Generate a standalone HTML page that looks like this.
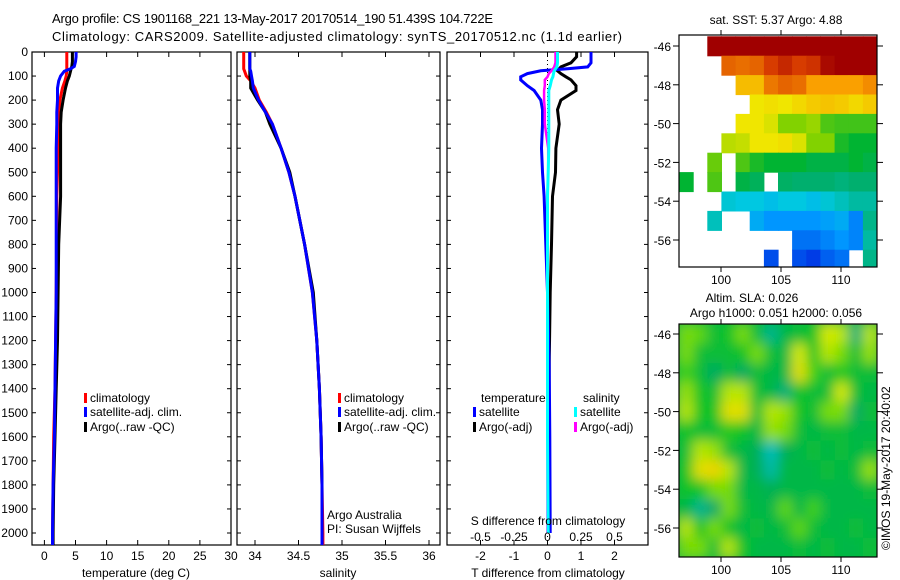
<!DOCTYPE html>
<html><head><meta charset="utf-8"><style>
body{margin:0;background:#fff;width:900px;height:580px;overflow:hidden}
svg{display:block;font-family:"Liberation Sans",sans-serif;font-size:12px}
</style></head><body>
<svg id="fig" width="900" height="580" viewBox="0 0 900 580">
<defs>
<clipPath id="c1"><rect x="32" y="52" width="199" height="493"/></clipPath>
<clipPath id="c2"><rect x="237" y="52" width="203" height="493"/></clipPath>
<clipPath id="c3"><rect x="447" y="52" width="201" height="493"/></clipPath>
<clipPath id="cm1"><rect x="679" y="35" width="198" height="232"/></clipPath>
<clipPath id="cm2"><rect x="679" y="324" width="198" height="233"/></clipPath>
<filter id="blur" x="0" y="0" width="1" height="1"><feGaussianBlur stdDeviation="6"/></filter>
</defs>
<text x="52" y="23" font-size="13" textLength="441">Argo profile: CS 1901168_221 13-May-2017 20170514_190 51.439S 104.722E</text>
<text x="52" y="41" font-size="13" textLength="570">Climatology: CARS2009. Satellite-adjusted climatology: synTS_20170512.nc (1.1d earlier)</text>
<g id="g1"></g>
<g id="g2"></g>
<g id="g3"></g>
<g id="m1"></g>
<g id="m2"></g>
<text transform="translate(890,550) rotate(-90)" font-size="12">©IMOS 19-May-2017 20:40:02</text>
</svg>
<script>
// ---- profile data ----
const tempDepth=[0,20,40,60,70,80,100,120,150,200,250,300,400,500,600,800,1000,1200,1400,1600,1800,2000,2050];
const climT=[3.6,3.6,3.6,3.6,3.6,3.6,3.5,3.3,2.9,2.5,2.4,2.3,2.2,2.1,2.0,2.0,1.9,1.8,1.7,1.5,1.4,1.3,1.3];
const satT=[5.1,5.1,5.0,4.8,4.2,3.2,2.6,2.3,2.1,2.1,2.0,2.0,1.9,1.9,1.9,1.9,1.9,1.8,1.7,1.6,1.4,1.3,1.3];
const argoT=[4.5,4.5,4.5,4.4,4.3,4.2,4.0,3.7,3.4,3.0,2.7,2.6,2.6,2.6,2.6,2.3,2.2,2.1,1.9,1.7,1.5,1.4,1.4];
const climS=[33.87,33.87,33.87,33.87,33.87,33.88,33.9,33.95,34.0,34.05,34.13,34.2,34.3,34.39,34.46,34.57,34.66,34.71,34.74,34.76,34.77,34.78,34.78];
const satS=[33.94,33.94,33.94,33.94,33.94,33.95,33.96,33.97,33.98,34.04,34.12,34.2,34.3,34.39,34.46,34.57,34.66,34.71,34.74,34.76,34.77,34.77,34.77];
const argoS=[33.94,33.94,33.94,33.94,33.94,33.94,33.94,33.95,33.95,34.03,34.12,34.17,34.3,34.4,34.46,34.57,34.67,34.71,34.74,34.76,34.77,34.77,34.77];
const diffDepth=[0,20,45,62,70,78,90,103,116,140,160,200,240,300,400,500,600,800,1000,1300,1600,2000];
const satTd=[1.3,1.3,1.3,1.2,0.6,-0.2,-0.6,-0.8,-0.8,-0.6,-0.4,-0.2,-0.15,-0.15,-0.18,-0.15,-0.1,-0.05,0,0.05,0.07,0.08];
const argoTd=[0.87,0.87,0.7,0.4,0.35,0.3,0.4,0.55,0.7,0.85,0.85,0.4,0.3,0.35,0.25,0.24,0.15,0.12,0.08,0.05,0.04,0.03];
const satSd=[0.075,0.075,0.075,0.07,0.06,0.05,0.045,0.04,0.03,0.02,0.01,0.01,0.01,0.01,0.01,0.005,0,0,0,0,0,0.005];
const argoSd=[0.06,0.06,0.06,0.05,0.04,0.03,0.01,0,-0.02,-0.02,-0.025,-0.025,-0.02,-0.02,0.005,0.005,0,0,0,0,0,0];
const depthTicks=[0,100,200,300,400,500,600,700,800,900,1000,1100,1200,1300,1400,1500,1600,1700,1800,1900,2000];
const tTicks=[0,5,10,15,20,25,30];
const sTicks=[34,34.5,35,35.5,36];
const dTTicks=[-2,-1,0,1,2];
const dSTicks=[-0.5,-0.25,0,0.25,0.5];
const dSLabels=["-0.5","-0.25","0","0.25","0.5"];
// ---- map data ----
const latTicks=[-46,-48,-50,-52,-54,-56];
const lonTicks=[100,105,110];
const N=null;
const sstGrid=[
[N,N,9.6,9.6,9.6,9.6,9.6,9.6,9.6,9.6,9.6,9.6,9.6,9.6],
[N,N,N,8.6,8.5,8.6,9.0,9.2,9.0,9.1,9.5,9.6,9.6,9.6],
[N,N,N,N,7.6,7.6,8.4,8.6,8.5,8.0,8.0,8.0,8.0,8.2],
[N,N,N,N,N,7.0,7.1,7.0,7.2,7.4,7.5,7.4,7.2,7.4],
[N,N,N,N,7.0,7.0,6.8,6.0,6.0,6.2,5.6,5.5,5.5,5.5],
[N,N,N,6.5,6.6,7.0,7.0,7.1,6.8,6.0,6.0,5.2,5.0,5.0],
[N,N,5.8,N,5.6,5.2,5.0,5.0,5.0,4.8,4.8,4.8,5.0,4.8],
[5.0,N,5.6,N,4.8,4.6,N,4.5,4.4,4.4,4.4,4.3,4.4,4.4],
[N,N,N,3.6,3.5,3.5,3.4,3.5,3.5,3.4,3.6,3.8,4.0,4.0],
[N,N,3.8,N,N,3.2,3.0,3.0,3.0,3.0,3.1,3.2,2.8,4.2],
[N,N,N,N,N,N,N,N,2.6,2.6,2.8,3.0,2.8,4.0],
[N,N,N,N,N,N,2.2,N,2.2,2.0,2.4,2.6,N,4.2]];
const slaGrid=[
[0.7,0.65,0.45,0.5,0.7,0.45,0.2,0.4,0.45,0.5,0.85,0.8,0.25,0.8],
[0.7,0.45,0.45,0.45,0.5,0.7,0.45,0.4,0.85,0.5,0.8,0.7,0.45,0.75],
[0.6,0.45,0.3,0.45,0.3,0.45,0.4,0.4,0.9,0.6,0.45,0.55,0.45,0.45],
[0.75,0.5,0.45,0.8,0.8,0.45,0.4,0.25,0.5,0.45,0.45,0.85,0.45,0.4],
[0.8,0.5,0.5,0.9,0.9,0.45,0.8,0.75,0.5,0.45,0.7,0.7,0.3,0.45],
[0.5,0.45,0.45,0.55,0.5,0.4,0.75,0.7,0.45,0.4,0.45,0.45,0.4,0.4],
[0.45,0.8,0.75,0.45,0.4,0.35,0.1,0.35,0.4,0.45,0.4,0.45,0.4,0.45],
[0.5,0.9,0.95,0.8,0.4,0.35,0.15,0.4,0.4,0.4,0.45,0.4,0.45,0.75],
[0.5,0.5,0.7,0.7,0.4,0.4,0.35,0.4,0.4,0.4,0.4,0.4,0.4,0.45],
[0.4,0.2,0.3,0.7,0.45,0.4,0.4,0.65,0.4,0.6,0.4,0.4,0.4,0.4],
[0.8,0.5,0.7,0.5,0.4,0.45,0.4,0.45,0.65,0.45,0.4,0.4,0.45,0.4],
[0.7,0.7,0.45,0.8,0.5,0.4,0.4,0.4,0.45,0.4,0.45,0.4,0.4,0.45]];

const NS='http://www.w3.org/2000/svg';
function mk(parent,tag,attrs,txt){const e=document.createElementNS(NS,tag);for(const k in attrs)e.setAttribute(k,attrs[k]);if(txt!==undefined)e.textContent=txt;parent.appendChild(e);return e;}
const yD=d=>52+d*0.2405;
const xT=v=>44.4+v*6.22;
const xS=v=>255+(v-34)*87;
const xDT=v=>547.5+v*33.5;
const xDS=v=>547.5+v*134;

function frame(g,x0,x1,xt,labels,lbY,leftLabels){
  const r=mk(g,'rect',{x:x0,y:52,width:x1-x0,height:493,fill:'none',stroke:'#000','stroke-width':1.2});
  
  
  depthTicks.forEach(d=>{
    const y=yD(d);
    mk(g,'line',{x1:x0,x2:x0+4,y1:y,y2:y,stroke:'#000'});
    mk(g,'line',{x1:x1-4,x2:x1,y1:y,y2:y,stroke:'#000'});
    if(leftLabels){const t=mk(g,'text',{x:28,y:y+4,'text-anchor':'end'},String(d));
      
      }
  });
  xt.forEach((x,i)=>{
    mk(g,'line',{x1:x,x2:x,y1:52,y2:57,stroke:'#000'});
    mk(g,'line',{x1:x,x2:x,y1:540,y2:545,stroke:'#000'});
    if(labels){const t=mk(g,'text',{x:x,y:lbY,'text-anchor':'middle'},labels[i]);
      
      }
  });
}
function line(g,clip,depths,vals,fx,color,name,w){
  const pts=depths.map((d,i)=>fx(vals[i]).toFixed(1)+','+yD(d).toFixed(1)).join(' ');
  const p=mk(g,'polyline',{points:pts,fill:'none',stroke:color,'stroke-width':w||3,'clip-path':'url(#'+clip+')'});
  
  
}
function legend(g,x,y,color,label){
  const r=mk(g,'rect',{x:x,y:y-9,width:3,height:10,fill:color});
  
  
  const t=mk(g,'text',{x:x+6,y:y},label);
  
  
}
function txt(g,x,y,s,name,anchor){
  const t=mk(g,'text',{x:x,y:y,'text-anchor':anchor||'start'},s);
  
  
}
const g1=document.getElementById('g1');
frame(g1,32,231,tTicks.map(xT),tTicks.map(String),560,true);
line(g1,'c1',tempDepth,climT,xT,'#f00','climatology-temp-line');
line(g1,'c1',tempDepth,argoT,xT,'#000','argo-temp-line');
line(g1,'c1',tempDepth,satT,xT,'#00f','satellite-temp-line');
legend(g1,84,402,'#f00','climatology');
legend(g1,84,416,'#00f','satellite-adj. clim.');
legend(g1,84,431,'#000','Argo(..raw -QC)');
txt(g1,136,577,'temperature (deg C)','x-axis-title-temperature','middle');
const g2=document.getElementById('g2');
frame(g2,237,440,sTicks.map(xS),['34','34.5','35','35.5','36'],560,false);
line(g2,'c2',tempDepth,climS,xS,'#f00','climatology-salinity-line');
line(g2,'c2',tempDepth,argoS,xS,'#000','argo-salinity-line');
line(g2,'c2',tempDepth,satS,xS,'#00f','satellite-salinity-line');
legend(g2,338,402,'#f00','climatology');
legend(g2,338,416,'#00f','satellite-adj. clim.');
legend(g2,338,431,'#000','Argo(..raw -QC)');
txt(g2,327,519,'Argo Australia','credit-argo-australia');
txt(g2,327,533,'PI: Susan Wijffels','credit-pi');
txt(g2,338,577,'salinity','x-axis-title-salinity','middle');
const g3=document.getElementById('g3');
frame(g3,447,648,dTTicks.map(xDT),dTTicks.map(String),560,false);
mk(g3,'line',{x1:xDT(0),x2:xDT(0),y1:52,y2:545,stroke:'#000','stroke-dasharray':'1,3'});
line(g3,'c3',diffDepth,argoTd,xDT,'#000','argo-temp-diff-line');
line(g3,'c3',diffDepth,satTd,xDT,'#00f','satellite-temp-diff-line');
line(g3,'c3',diffDepth,argoSd,xDS,'#f0f','argo-salinity-diff-line',2.5);
line(g3,'c3',diffDepth,satSd,xDS,'#0ff','satellite-salinity-diff-line');
txt(g3,481,402,'temperature','legend-title-temperature');
txt(g3,583,402,'salinity','legend-title-salinity');
legend(g3,473,416,'#00f','satellite');
legend(g3,473,431,'#000','Argo(-adj)');
legend(g3,574,416,'#0ff','satellite');
legend(g3,574,431,'#f0f','Argo(-adj)');
txt(g3,548,525,'S difference from climatology','s-axis-title','middle');
dSTicks.forEach((v,i)=>txt(g3,xDS(v),541,dSLabels[i],'s-tick-label','middle'));
txt(g3,548,577,'T difference from climatology','x-axis-title-t-diff','middle');

function interp(st,v){
  if(v<=st[0][0])return 'rgb('+st[0][1].join(',')+')';
  for(let i=1;i<st.length;i++){if(v<=st[i][0]){const a=st[i-1],b=st[i],u=(v-a[0])/(b[0]-a[0]);
    return 'rgb('+a[1].map((c,k)=>Math.round(c+(b[1][k]-c)*u)).join(',')+')';}}
  return 'rgb('+st[st.length-1][1].join(',')+')';
}
function sstCol(v){
  return interp([[2,[0,60,230]],[3,[0,150,255]],[3.5,[0,200,225]],[4.4,[0,175,110]],[5,[0,180,50]],[6,[130,210,0]],[7,[240,230,0]],[8,[250,160,0]],[9,[215,60,0]],[9.6,[160,0,0]]],v);
}
function slaCol(v){
  return interp([[0,[0,200,230]],[0.3,[0,170,100]],[0.5,[10,195,40]],[0.7,[120,220,0]],[0.85,[215,235,0]],[1,[245,200,0]]],v);
}
function mapAxes(g,y0,y1,yLat,lblY){
  const r=mk(g,'rect',{x:679,y:y0,width:198,height:y1-y0,fill:'none',stroke:'#000','stroke-width':1.2});
  
  
  latTicks.forEach(l=>{const y=yLat(l);
    mk(g,'line',{x1:673,x2:679,y1:y,y2:y,stroke:'#000'});
    mk(g,'line',{x1:877,x2:883,y1:y,y2:y,stroke:'#000'});
    txt(g,671,y+5,String(l),'lat-tick-label','end');});
  lonTicks.forEach(l=>{const x=721+(l-100)*12;
    mk(g,'line',{x1:x,x2:x,y1:y0-5,y2:y0,stroke:'#000'});
    mk(g,'line',{x1:x,x2:x,y1:y1,y2:y1+5,stroke:'#000'});
    txt(g,x,lblY,String(l),'lon-tick-label','middle');});
}
const m1=document.getElementById('m1');
const yLat1=l=>46+(-46-l)*19.4;
const cw=198/14;
const gc1=mk(m1,'g',{'clip-path':'url(#cm1)'});
sstGrid.forEach((row,r)=>row.forEach((v,c)=>{if(v===null)return;
  const e=mk(gc1,'rect',{x:(679+c*cw).toFixed(1),y:(yLat1(-45.5-r)).toFixed(1),width:(cw+0.6).toFixed(1),height:20,fill:sstCol(v)});
  
  }));
mapAxes(m1,35,267,yLat1,284);
txt(m1,776,24,'sat. SST: 5.37 Argo: 4.88','sst-map-title','middle');
txt(m1,752,302,'Altim. SLA: 0.026','sla-map-title-1','middle');
txt(m1,776,317,'Argo h1000: 0.051 h2000: 0.056','sla-map-title-2','middle');
const m2=document.getElementById('m2');
const yLat2=l=>334+(-46-l)*19.4;
const gc2=mk(m2,'g',{'clip-path':'url(#cm2)'});
const gb=mk(gc2,'g',{filter:'url(#blur)'});
mk(gb,'rect',{x:660,y:300,width:240,height:280,fill:slaCol(0.42)});
slaGrid.forEach((row,r)=>row.forEach((v,c)=>{
  const e=mk(gb,'rect',{x:(679+c*cw).toFixed(1),y:(yLat2(-45.5-r)).toFixed(1),width:(cw+0.6).toFixed(1),height:20,fill:slaCol(v)});
  
  }));
mapAxes(m2,324,557,yLat2,574);
</script>
</body></html>
